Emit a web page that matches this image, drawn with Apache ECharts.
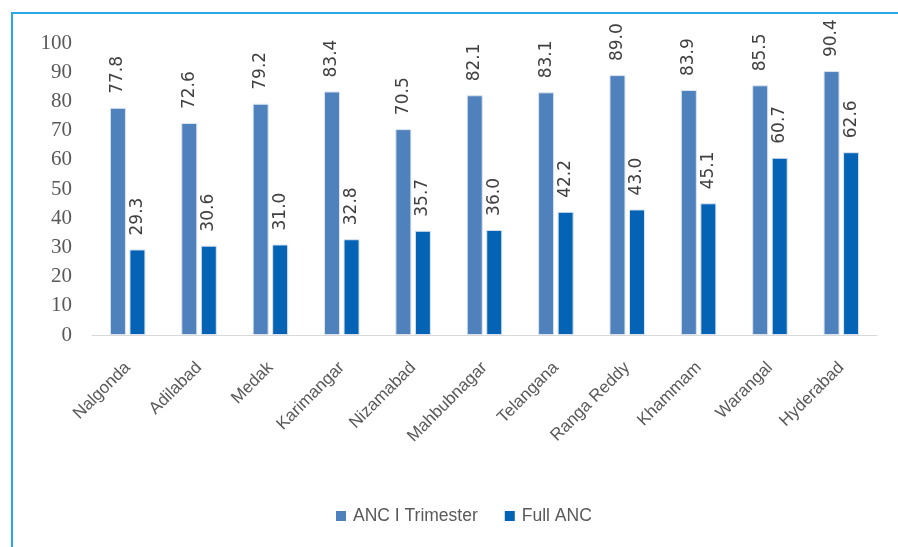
<!DOCTYPE html>
<html><head><meta charset="utf-8">
<script src="https://cdn.jsdelivr.net/npm/echarts@6/dist/echarts.min.js"></script>
<style>html,body{margin:0;padding:0;background:#fff}#c{width:898px;height:547px;position:relative}
#frame{position:absolute;left:11px;top:12px;width:900px;height:540px;border-left:2px solid #2aa7e6;border-top:2px solid #2aa7e6;pointer-events:none}</style>
</head><body><div id="c"></div><div id="frame"></div>
<script>
const categories = ['Nalgonda','Adilabad','Medak','Karimangar','Nizamabad','Mahbubnagar','Telangana','Ranga Reddy','Khammam','Warangal','Hyderabad'];
const ancFirstTrimester = [77.8,72.6,79.2,83.4,70.5,82.1,83.1,89.0,83.9,85.5,90.4];
const fullAnc = [29.3,30.6,31.0,32.8,35.7,36.0,42.2,43.0,45.1,60.7,62.6];
const seriesNames = ['ANC I Trimester','Full ANC'];

const chart = echarts.init(document.getElementById('c'), null, {renderer:'canvas'});
const lbl = {show:true, position:'top', rotate:90, align:'left', verticalAlign:'middle', distance:14,
  color:'#404040', fontFamily:'DejaVu Sans', fontSize:17, formatter:p=>p.value.toFixed(1)};
chart.setOption({
  animation:false,
  grid:{left:92,right:21,top:43,bottom:212},
  legend:{bottom:17,left:331,itemWidth:10,itemHeight:10,itemGap:27,icon:'rect',
    itemStyle:{borderWidth:0},
    textStyle:{color:'#595959',fontFamily:'Liberation Sans',fontSize:17.5,padding:[0,0,0,2]}},
  xAxis:{type:'category',data:categories,
    axisLine:{lineStyle:{color:'#d9d9d9',width:1}},axisTick:{show:false},
    axisLabel:{rotate:45,color:'#595959',fontFamily:'Liberation Sans',fontSize:17,margin:30,interval:0}},
  yAxis:{type:'value',min:0,max:100,interval:10,splitLine:{show:false},axisLine:{show:false},axisTick:{show:false},
    axisLabel:{color:'#595959',fontFamily:'Liberation Serif',fontSize:21,margin:20}},
  series:[
    {name:seriesNames[0],type:'bar',data:ancFirstTrimester,barWidth:16,barGap:'22%',
     itemStyle:{color:'#4f81bd',borderColor:'#dbe5f1',borderWidth:1},label:lbl},
    {name:seriesNames[1],type:'bar',data:fullAnc,barWidth:16,
     itemStyle:{color:'#0563b5',borderColor:'#dbe5f1',borderWidth:1},label:lbl}
  ]
});
</script></body></html>
